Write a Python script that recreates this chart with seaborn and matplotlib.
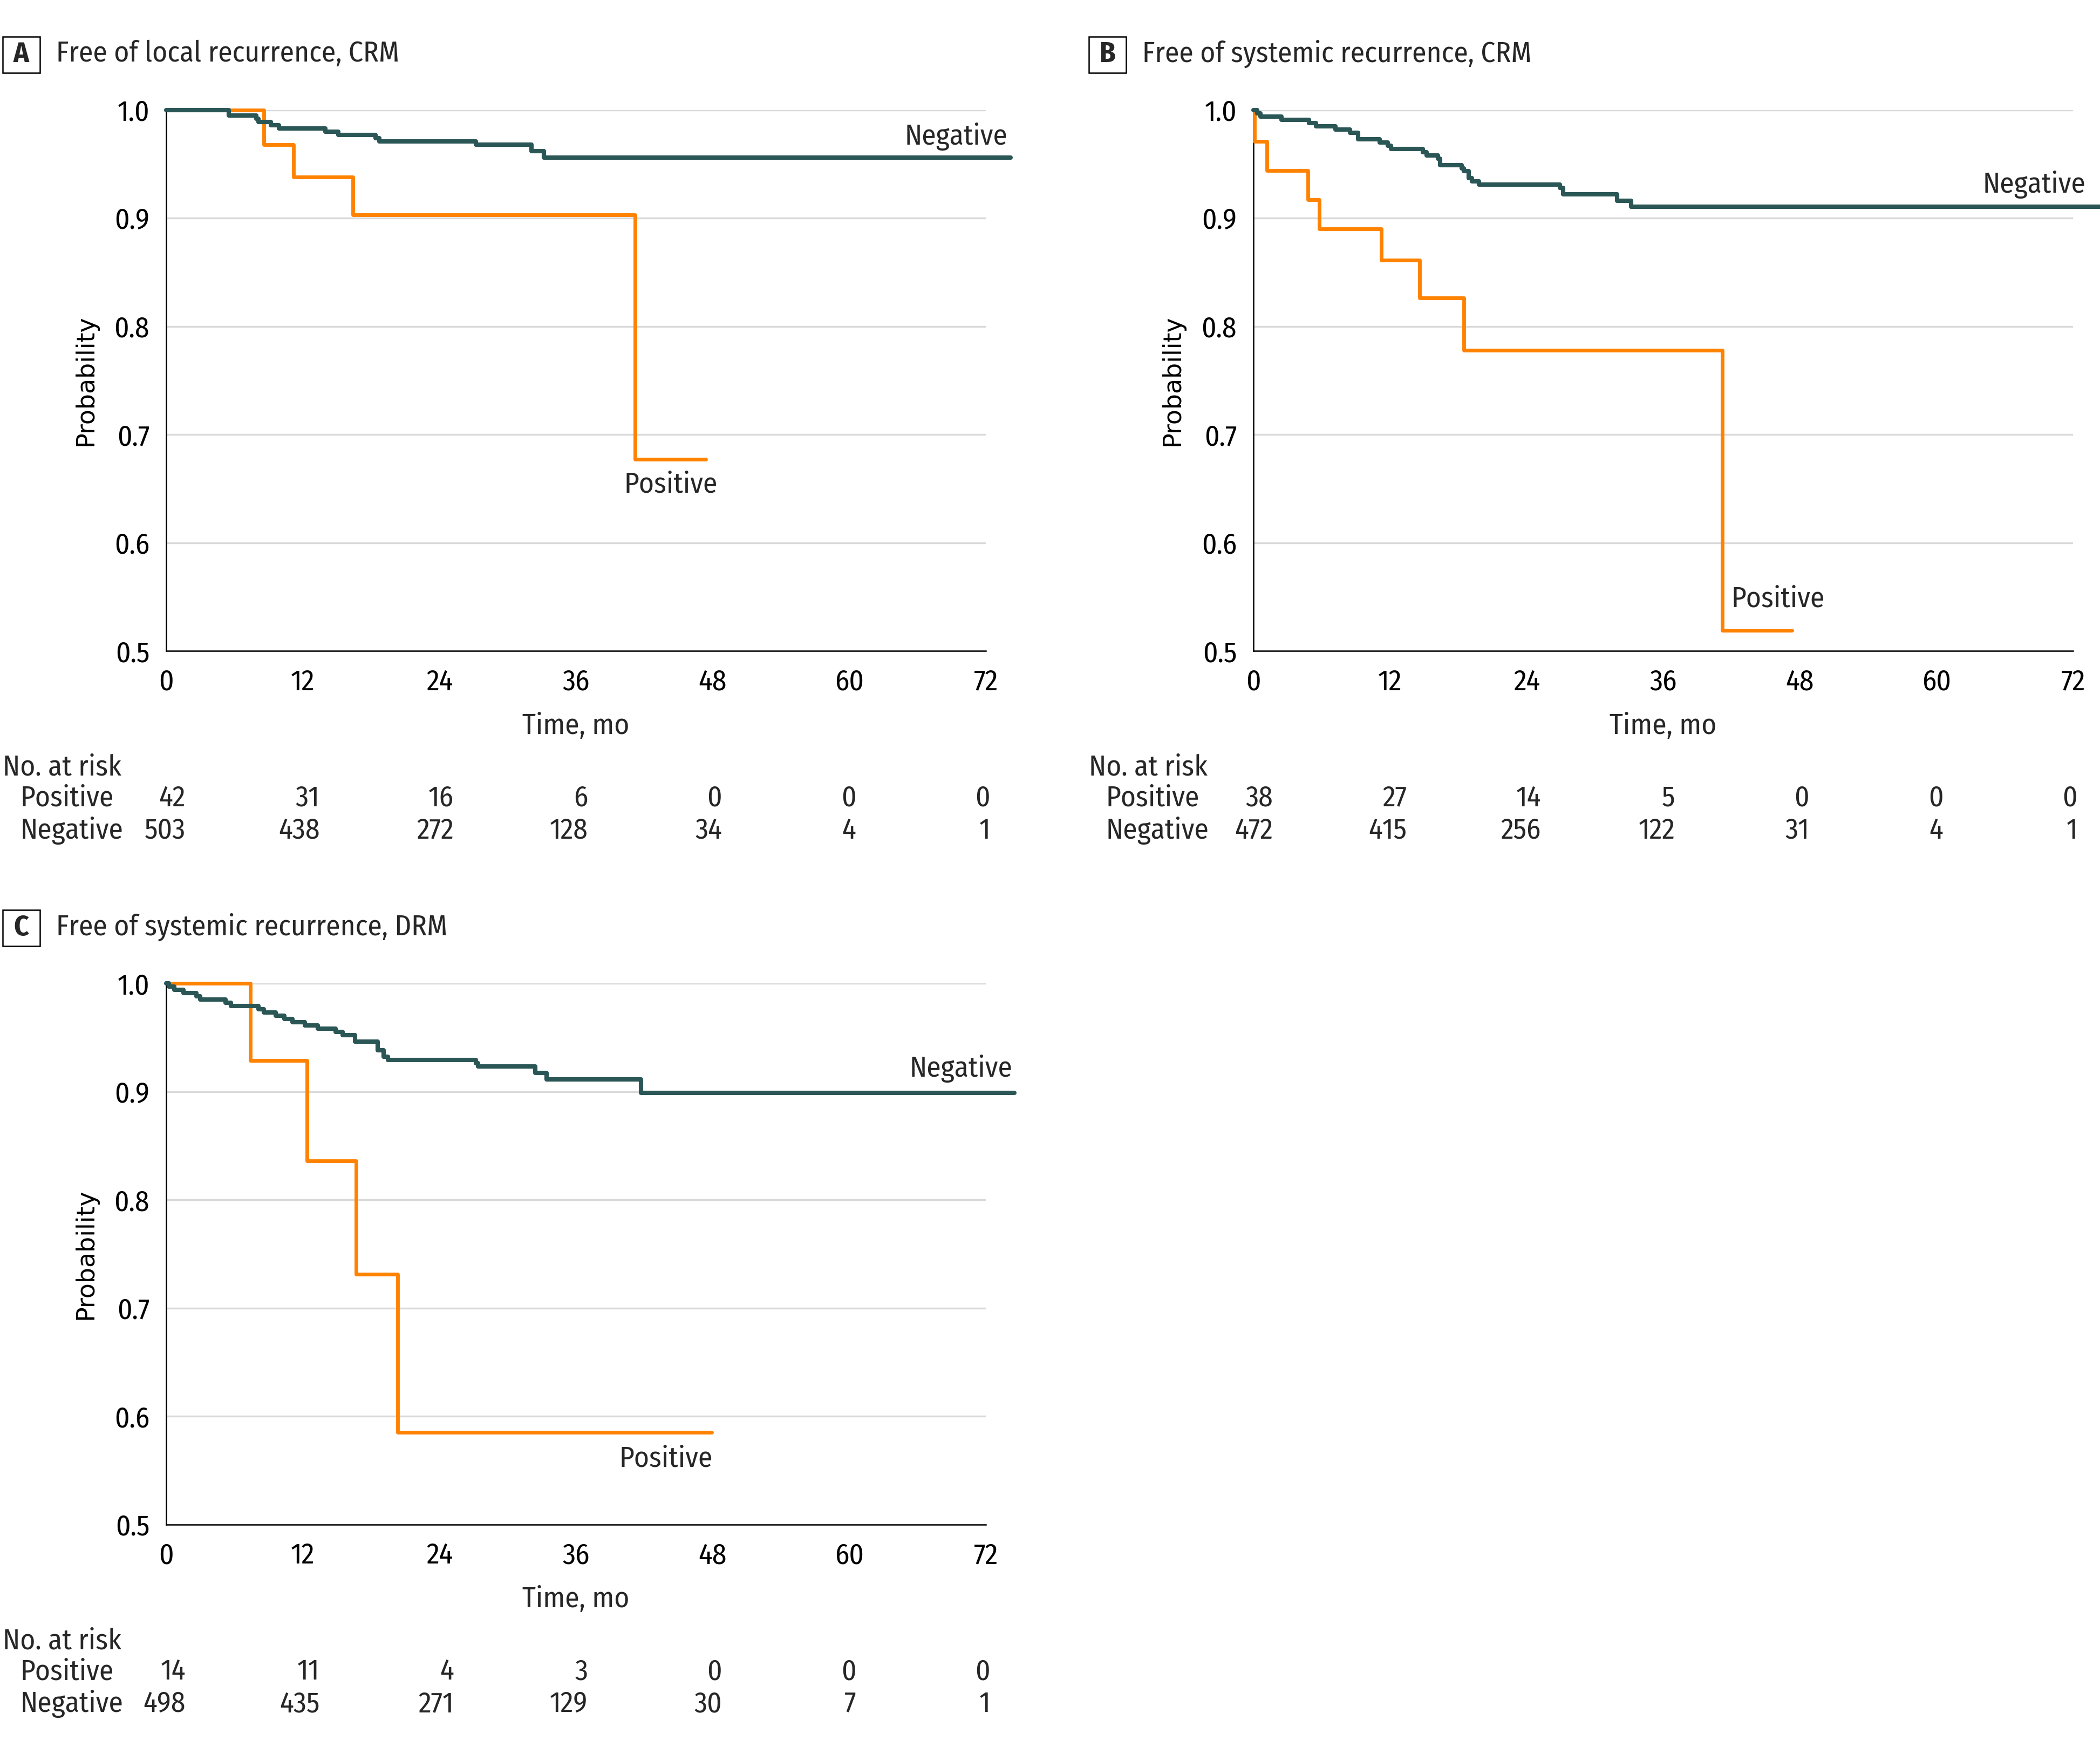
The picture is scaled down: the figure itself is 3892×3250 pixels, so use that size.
"""Kaplan-Meier style recurrence curves by margin status (3 panels)."""
import matplotlib
matplotlib.use("Agg")
import matplotlib.pyplot as plt
import matplotlib.patches as patches
import matplotlib.transforms as mtransforms
import seaborn as sns

# ---- data ------------------------------------------------------------------
month_ticks = [0, 12, 24, 36, 48, 60, 72]
prob_ticks = [0.5, 0.6, 0.7, 0.8, 0.9, 1.0]

# A: free of local recurrence, CRM
a_pos_t = [0, 8.6, 11.2, 16.4, 41.2, 47.4]
a_pos_s = [1.0, 0.968, 0.938, 0.903, 0.677, 0.677]
a_neg_t = [0, 5.5, 7.9, 8.1, 9.2, 9.9, 14.0, 15.1, 18.4, 18.7, 27.2, 32.1, 33.2, 74.2]
a_neg_s = [1.0, 0.995, 0.992, 0.989, 0.986, 0.983, 0.980, 0.977, 0.974, 0.971,
           0.968, 0.962, 0.956, 0.956]
a_risk_pos = [42, 31, 16, 6, 0, 0, 0]
a_risk_neg = [503, 438, 272, 128, 34, 4, 1]

# B: free of systemic recurrence, CRM
b_pos_t = [0, 0.1, 1.17, 4.77, 5.8, 11.25, 14.6, 18.5, 41.2, 47.3]
b_pos_s = [1.0, 0.971, 0.944, 0.917, 0.890, 0.861, 0.826, 0.778, 0.519, 0.519]
b_neg_t = [0, 0.35, 0.6, 2.45, 4.9, 5.5, 7.2, 8.5, 9.2, 11.1, 11.8, 12.1, 14.9, 15.2,
           16.2, 16.4, 18.3, 18.5, 18.9, 19.2, 19.8, 26.9, 27.2, 31.95, 33.2, 74.8]
b_neg_s = [1.0, 0.997, 0.994, 0.991, 0.988, 0.985, 0.982, 0.979, 0.973, 0.970, 0.967,
           0.964, 0.961, 0.958, 0.955, 0.949, 0.946, 0.9435, 0.937, 0.934, 0.931,
           0.928, 0.922, 0.916, 0.9105, 0.9105]
b_risk_pos = [38, 27, 14, 5, 0, 0, 0]
b_risk_neg = [472, 415, 256, 122, 31, 4, 1]

# C: free of systemic recurrence, DRM
c_pos_t = [0, 7.4, 12.35, 16.7, 20.35, 47.9]
c_pos_s = [1.0, 0.9286, 0.8357, 0.7312, 0.585, 0.585]
c_neg_t = [0, 0.25, 0.7, 1.5, 2.65, 3.0, 5.2, 5.7, 8.1, 8.6, 9.6, 10.4, 11.1, 12.2,
           13.3, 14.9, 15.5, 16.6, 18.6, 19.1, 19.5, 27.2, 27.4, 32.4, 33.4, 41.7, 74.5]
c_neg_s = [1.0, 0.997, 0.994, 0.991, 0.988, 0.985, 0.982, 0.979, 0.976, 0.973, 0.970,
           0.967, 0.964, 0.961, 0.958, 0.955, 0.952, 0.946, 0.938, 0.932, 0.929,
           0.926, 0.923, 0.917, 0.911, 0.899, 0.899]
c_risk_pos = [14, 11, 4, 3, 0, 0, 0]
c_risk_neg = [498, 435, 271, 129, 30, 7, 1]

# ---- style -----------------------------------------------------------------
W, H, DPI = 3892, 3250, 300
NEG_COLOR = "#2b5656"
POS_COLOR = "#ff8200"
GRID_COLOR = "#d9d9d9"
FS = 12.8

sns.set_theme(style="white")
plt.rcParams["font.family"] = ["Fira Sans Condensed", "Source Sans 3", "Fira Sans",
                               "Noto Sans", "DejaVu Sans"]
plt.rcParams["axes.linewidth"] = 0.6
plt.rcParams["xtick.major.width"] = 0.6
plt.rcParams["ytick.major.width"] = 0.6
plt.rcParams["xtick.major.size"] = 4.2
plt.rcParams["ytick.major.size"] = 4.2
plt.rcParams["xtick.major.pad"] = 3.6
plt.rcParams["ytick.major.pad"] = 3.2

fig = plt.figure(figsize=(W / DPI, H / DPI), dpi=DPI)
fig.patch.set_facecolor("white")

AX_W, AX_H = 1519, 1002.5


def fy(y):
    return 1 - y / H


def draw_panel(letter, title, left, top, box_x,
               pos_t, pos_s, neg_t, neg_s, risk_pos, risk_neg,
               neg_label, pos_label):
    ax = fig.add_axes([left / W, fy(top + AX_H), AX_W / W, AX_H / H])
    bottom = top + AX_H

    sns.lineplot(x=pos_t, y=pos_s, ax=ax, color=POS_COLOR, linewidth=1.65,
                 drawstyle="steps-post", estimator=None, sort=False,
                 legend=False, clip_on=False, zorder=3)
    sns.lineplot(x=neg_t, y=neg_s, ax=ax, color=NEG_COLOR, linewidth=1.95,
                 drawstyle="steps-post", estimator=None, sort=False,
                 legend=False, clip_on=False, zorder=4)

    ax.set_xlim(0, 72)
    ax.set_ylim(0.5, 1.0)
    ax.set_xticks(month_ticks)
    ax.set_xticklabels([str(m) for m in month_ticks], fontsize=FS)
    ax.set_yticks(prob_ticks)
    ax.set_yticklabels([f"{p:.1f}" for p in prob_ticks], fontsize=FS)
    ax.tick_params(direction="out", color="black", labelcolor="black")
    ax.yaxis.grid(True, color=GRID_COLOR, lw=0.8)
    ax.xaxis.grid(False)
    ax.set_axisbelow(True)
    sns.despine(ax=ax)
    for sp in ("left", "bottom"):
        ax.spines[sp].set_color("black")

    ax.set_xlabel("")
    ax.set_ylabel("Probability", fontsize=11, family="DejaVu Sans", color="black")
    ax.yaxis.set_label_coords(-127 / AX_W, 0.5)

    # curve labels
    ax.text(neg_label[0], neg_label[1], "Negative", ha="right", va="center",
            fontsize=FS, clip_on=False)
    ax.text(pos_label[0], pos_label[1], "Positive", ha="center", va="center",
            fontsize=FS, clip_on=False)

    # panel letter box and title
    fig.add_artist(patches.Rectangle((box_x / W, fy(top - 69)), 69 / W, 67 / H,
                                     transform=fig.transFigure, fill=False,
                                     ec="black", lw=0.6))
    fig.text((box_x + 34.5) / W, fy(top - 102.5), letter, ha="center", va="center",
             fontsize=FS, fontweight="bold")
    fig.text((box_x + 99) / W, fy(top - 104), title, ha="left", va="center",
             fontsize=FS)

    # x label
    fig.text((left + AX_W / 2) / W, fy(bottom + 139), "Time, mo", ha="center",
             va="center", fontsize=FS)

    # number at risk table
    fig.text(box_x / W, fy(bottom + 216), "No. at risk", ha="left", va="center",
             fontsize=FS)
    fig.text((box_x + 32) / W, fy(bottom + 273), "Positive", ha="left",
             va="center", fontsize=FS)
    fig.text((box_x + 32) / W, fy(bottom + 333), "Negative", ha="left",
             va="center", fontsize=FS)
    trans = mtransforms.blended_transform_factory(ax.transData, fig.transFigure)
    for i, (p, n) in enumerate(zip(risk_pos, risk_neg)):
        x = 1.7 + i * 11.78
        ax.text(x, fy(bottom + 273), str(p), transform=trans, ha="right",
                va="center", fontsize=FS, clip_on=False)
        ax.text(x, fy(bottom + 333), str(n), transform=trans, ha="right",
                va="center", fontsize=FS, clip_on=False)
    return ax


draw_panel("A", "Free of local recurrence, CRM", 308, 203.5, 5,
           a_pos_t, a_pos_s, a_neg_t, a_neg_s, a_risk_pos, a_risk_neg,
           (73.9, 0.975), (44.35, 0.6535))
draw_panel("B", "Free of systemic recurrence, CRM", 2323, 203.5, 2018,
           b_pos_t, b_pos_s, b_neg_t, b_neg_s, b_risk_pos, b_risk_neg,
           (73.1, 0.9307), (46.1, 0.548))
draw_panel("C", "Free of systemic recurrence, DRM", 308, 1822, 5,
           c_pos_t, c_pos_s, c_neg_t, c_neg_s, c_risk_pos, c_risk_neg,
           (74.35, 0.921), (43.9, 0.5606))

fig.savefig("out.png", dpi=DPI, facecolor="white")
